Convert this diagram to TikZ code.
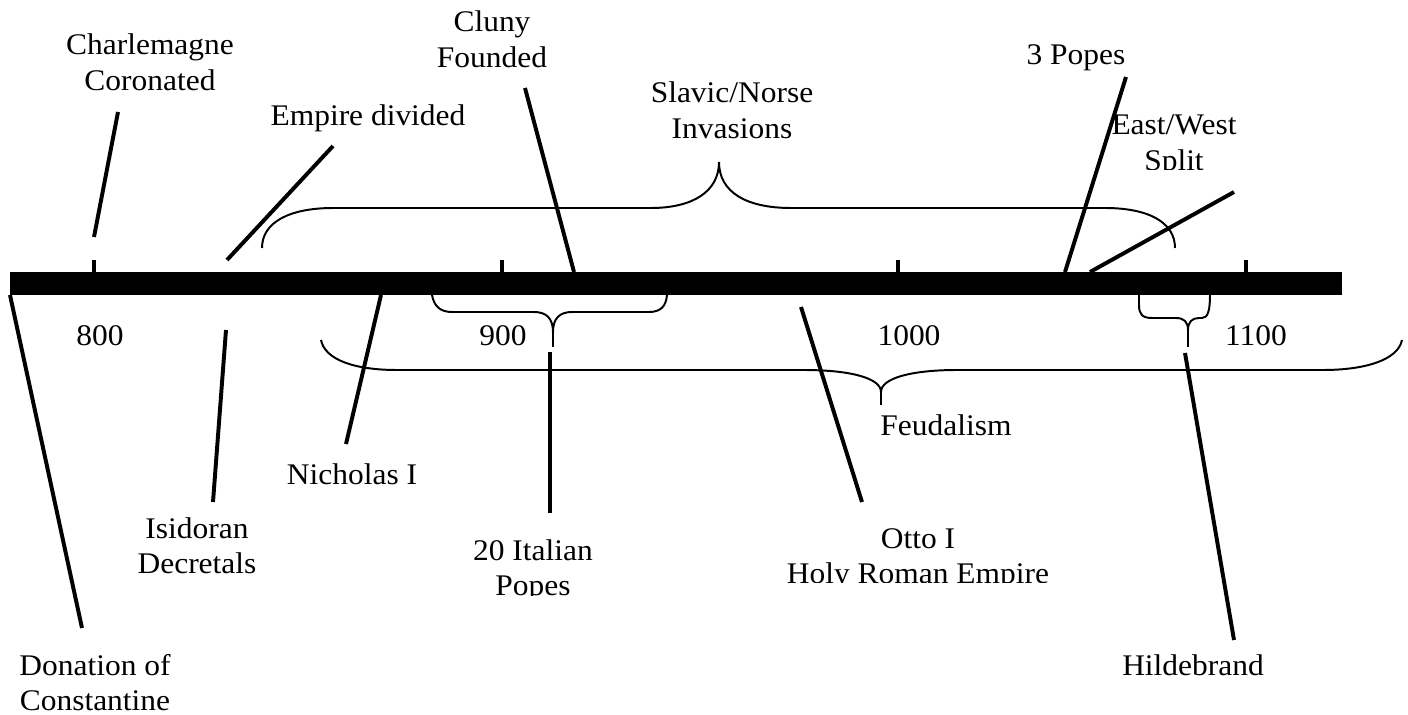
\documentclass[tikz,border=0pt]{standalone}
\usepackage{fontspec}
\setmainfont{Liberation Serif}[FakeStretch=1.05]
\newcommand\twoline[2]{\begin{tabular}[t]{@{}c@{}}#1\\#2\end{tabular}}
\begin{document}
\begin{tikzpicture}[x=0.025cm,y=-0.025cm,
  lbl/.style={font=\fontsize{21.3}{24.9}\selectfont, inner sep=0pt, anchor=base, align=center},
  conn/.style={line width=2.8pt},
  bracepath/.style={line width=1.4pt},
  tickmark/.style={line width=2.8pt}]
\useasboundingbox (0,0) rectangle (1408,715);

% timeline bar
\fill (10,272) rectangle (1342,295);
\foreach \x in {94,502,898,1246} \draw[tickmark] (\x,260) -- (\x,273);

% year labels
\node[lbl] (y800) at (100,346) {800};
\node[lbl] (y900) at (503,346) {900};
\node[lbl] (y1000) at (909,346) {1000};
\node[lbl] (y1100) at (1256,346) {1100};

% labels above
\node[lbl] (charl) at (150,55) {\twoline{Charlemagne}{Coronated}};
\node[lbl] (cluny) at (492,32) {\twoline{Cluny}{Founded}};
\node[lbl] (empire) at (368,126) {Empire divided};
\node[lbl] (slavic) at (732,103) {\twoline{Slavic/Norse}{Invasions}};
\node[lbl] (popes3) at (1076,65) {3 Popes};
\begin{scope}
  \clip (1090,100) rectangle (1260,170);
  \node[lbl] (eastwest) at (1174,135) {\twoline{East/West}{Split}};
\end{scope}

% labels below
\node[lbl] (nicholas) at (352,484) {Nicholas I};
\node[lbl] (isidoran) at (197,538) {\twoline{Isidoran}{Decretals}};
\node[lbl] (donation) at (95,675) {\twoline{Donation of}{Constantine}};
\begin{scope}
  \clip (450,520) rectangle (620,595);
  \node[lbl] (italian) at (533,560) {\twoline{20 Italian}{Popes}};
\end{scope}
\node[lbl] (feudal) at (946,435) {Feudalism};
\begin{scope}
  \clip (760,510) rectangle (1080,582);
  \node[lbl] (otto) at (918,548) {\twoline{Otto I}{Holy Roman Empire}};
\end{scope}
\node[lbl] (hilde) at (1193,675) {Hildebrand};

% connector end points
\coordinate (charlA) at (118,112); \coordinate (charlB) at (94,237);
\coordinate (empA) at (333,146);   \coordinate (empB) at (227,260);
\coordinate (clunyA) at (525,88);  \coordinate (clunyB) at (574,272);
\coordinate (popesA) at (1126,77); \coordinate (popesB) at (1065,272);
\coordinate (ewA) at (1234,192);   \coordinate (ewB) at (1090,272);
\coordinate (donA) at (10,295);    \coordinate (donB) at (82,628);
\coordinate (isiA) at (226,330);   \coordinate (isiB) at (213,502);
\coordinate (nicA) at (381,295);   \coordinate (nicB) at (346,444);
\coordinate (itaA) at (550,352);   \coordinate (itaB) at (550,513);
\coordinate (ottoA) at (801,307);  \coordinate (ottoB) at (862,502);
\coordinate (hilA) at (1185,353);  \coordinate (hilB) at (1234,640);

\draw[conn] (charlA) -- (charlB);
\draw[conn] (empA) -- (empB);
\draw[conn] (clunyA) -- (clunyB);
\draw[conn] (popesA) -- (popesB);
\draw[conn] (ewA) -- (ewB);
\draw[conn] (donA) -- (donB);
\draw[conn] (isiA) -- (isiB);
\draw[conn] (nicA) -- (nicB);
\draw[conn] (itaA) -- (itaB);
\draw[conn] (ottoA) -- (ottoB);
\draw[conn] (hilA) -- (hilB);

% braces
% Slavic/Norse invasions (above)
\draw[bracepath] (262,248) .. controls (262,222) and (290,208) .. (333,208) -- (651,208)
  .. controls (692,208) and (719,192) .. (719,162)
  .. controls (719,192) and (746,208) .. (791,208) -- (1105,208)
  .. controls (1148,208) and (1175,222) .. (1175,248);
% 20 Italian Popes (small, below)
\draw[bracepath] (432,295) .. controls (434,306) and (440,312) .. (452,312) -- (534,312)
  .. controls (546,312) and (553,318) .. (553,332)
  .. controls (553,318) and (560,312) .. (572,312) -- (649,312)
  .. controls (661,312) and (666,306) .. (667,295);
\draw[bracepath] (553,332) -- (553,347);
% Hildebrand (small, below)
\draw[bracepath] (1139,295) -- (1139,305) .. controls (1139,314) and (1142,318) .. (1152,318) -- (1176,318)
  .. controls (1184,318) and (1188,322) .. (1188,330)
  .. controls (1188,322) and (1192,318) .. (1199,318) -- (1202,318)
  .. controls (1208,318) and (1210,310) .. (1210,295);
\draw[bracepath] (1188,330) -- (1188,347);
% Feudalism (large, below)
\draw[bracepath] (321,340) .. controls (325,360) and (355,370) .. (397,370) -- (804,370)
  .. controls (850,370) and (881,378) .. (881,392)
  .. controls (881,378) and (912,370) .. (957,370) -- (1323,370)
  .. controls (1365,370) and (1398,360) .. (1402,340);
\draw[bracepath] (881,392) -- (881,405);
\end{tikzpicture}
\end{document}
